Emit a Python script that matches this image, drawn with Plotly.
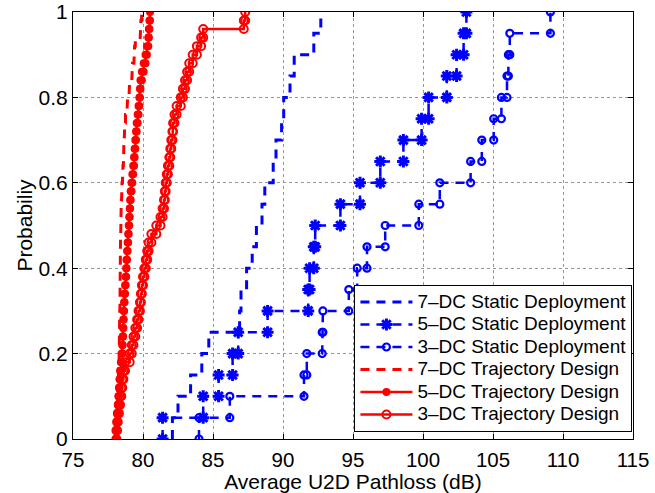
import plotly.graph_objects as go

# Sorted samples (dB) for each empirical CDF
static_7dc = [82.1, 82.5, 83.4, 84.2, 84.7, 86.9, 87.0, 87.4, 87.8, 88.1,
              88.5, 88.7, 89.3, 89.5, 89.9, 90.05, 90.5, 90.8, 92.2, 92.7]
static_5dc = [81.4, 84.3, 85.4, 86.4, 86.8, 88.9, 91.8, 91.9, 92.2, 92.3,
              94.1, 95.5, 96.95, 98.6, 99.9, 100.4, 101.7, 102.4, 102.9, 103.1]
static_3dc = [84.0, 86.2, 91.5, 91.7, 92.8, 92.85, 94.7, 95.3, 96.0, 97.3,
              99.7, 101.2, 103.4, 104.2, 105.05, 105.6, 106.0, 106.1, 106.2, 109.1]
traj_7dc = [78.02, 78.05, 78.08, 78.12, 78.16, 78.19, 78.22, 78.25, 78.27, 78.29,
            78.30, 78.31, 78.32, 78.33, 78.34, 78.35, 78.36, 78.37, 78.38, 78.38,
            78.39, 78.39, 78.40, 78.40, 78.41, 78.42, 78.43, 78.45, 78.47, 78.50,
            78.53, 78.57, 78.60, 78.62, 78.64, 78.66, 78.70, 78.75, 78.85, 78.90,
            79.00, 79.05, 79.20, 79.25, 79.35, 79.40, 79.45, 79.80, 79.85, 79.90]
traj_5dc = [78.12, 78.14, 78.18, 78.20, 78.24, 78.28, 78.32, 78.36, 78.42, 78.48,
            78.52, 78.55, 78.58, 78.60, 78.62, 78.65, 78.68, 78.72, 78.76, 78.80,
            78.82, 78.86, 78.90, 78.94, 78.98, 79.02, 79.05, 79.08, 79.12, 79.18,
            79.24, 79.30, 79.36, 79.40, 79.45, 79.50, 79.55, 79.62, 79.68, 79.74,
            79.78, 79.82, 79.92, 80.05, 80.18, 80.28, 80.38, 80.42, 80.46, 80.50]
traj_3dc = [78.10, 78.15, 78.20, 78.28, 78.36, 78.45, 78.52, 78.60, 78.72, 79.05,
            79.20, 79.32, 79.45, 79.58, 79.68, 79.78, 79.85, 79.92, 80.00, 80.10,
            80.20, 80.30, 80.40, 80.60, 80.95, 81.25, 81.40, 81.50, 81.56, 81.62,
            81.70, 81.78, 81.88, 81.95, 82.02, 82.10, 82.15, 82.25, 82.40, 82.70,
            82.85, 83.00, 83.15, 83.30, 83.55, 83.85, 84.15, 84.30, 87.20, 87.30]

labels = ["7\u2013DC Static Deployment", "5\u2013DC Static Deployment", "3\u2013DC Static Deployment",
          "7\u2013DC Trajectory Design", "5\u2013DC Trajectory Design", "3\u2013DC Trajectory Design"]
x_ticks = [75, 80, 85, 90, 95, 100, 105, 110, 115]
y_ticks = [0, 0.2, 0.4, 0.6, 0.8, 1]

BLUE = "rgb(0,0,255)"
RED = "rgb(255,0,0)"
FONT = "Liberation Sans, Arial, Helvetica, sans-serif"


def ecdf_stairs(samples):
    s = sorted(samples)
    n = len(s)
    xs, ys = [], []
    for i, v in enumerate(s):
        xs += [v, v]
        ys += [i / n, (i + 1) / n]
    return xs, ys


styles = [
    (static_7dc, dict(color=BLUE, width=3, dash="9px,7px"), None),
    (static_5dc, dict(color=BLUE, width=2.5, dash="9px,7px"),
     dict(symbol="asterisk-open", size=10, color=BLUE, line=dict(color=BLUE, width=3))),
    (static_3dc, dict(color=BLUE, width=2.5, dash="9px,7px"),
     dict(symbol="circle-open", size=7, color=BLUE, line=dict(color=BLUE, width=2.2))),
    (traj_7dc, dict(color=RED, width=3, dash="9px,7px"), None),
    (traj_5dc, dict(color=RED, width=2.5),
     dict(symbol="circle", size=8, color=RED, line=dict(width=0))),
    (traj_3dc, dict(color=RED, width=2.5),
     dict(symbol="circle-open", size=8, color=RED, line=dict(color=RED, width=2))),
]

fig = go.Figure()
for (data, line, marker), name in zip(styles, labels):
    xs, ys = ecdf_stairs(data)
    shown = '<span style="font-size:19px">' + name + '</span>'
    if marker is None:
        fig.add_trace(go.Scatter(x=xs, y=ys, mode="lines", name=shown, line=line))
    else:
        fig.add_trace(go.Scatter(x=xs, y=ys, mode="lines+markers", name=shown,
                                 line=line, marker=marker))

axis_common = dict(
    showline=True, linecolor="black", linewidth=1, mirror="ticks",
    ticks="inside", ticklen=5, tickcolor="black",
    showgrid=True, gridcolor="rgb(150,150,150)", gridwidth=1, griddash="dot",
    zeroline=False, automargin=False,
)

fig.update_xaxes(range=[75, 115], tickvals=x_ticks, ticklabelstandoff=2,
                 tickfont=dict(size=20.5, color="black", family=FONT),
                 title=dict(text="Average U2D Pathloss (dB)", font=dict(size=21, color="black", family=FONT), standoff=0),
                 **axis_common)
fig.update_yaxes(range=[0, 1], tickvals=y_ticks,
                 tickfont=dict(size=21, color="black", family=FONT),
                 title=dict(text="Probabiliy", font=dict(size=21, color="black", family=FONT), standoff=0),
                 **axis_common)

fig.update_layout(
    width=655, height=493,
    margin=dict(l=73, r=22, t=12, b=54, autoexpand=False),
    paper_bgcolor="white", plot_bgcolor="white",
    font=dict(family=FONT, color="black"),
    showlegend=True,
    legend=dict(x=0.999, y=0.017, xanchor="right", yanchor="bottom",
                bgcolor="white", bordercolor="black", borderwidth=1,
                font=dict(size=15, color="black", family=FONT),
                tracegroupgap=0, itemwidth=52),
)

fig.write_html("out.html", config={"displayModeBar": False},
               post_script="document.body.style.margin='0';document.body.style.overflow='hidden';")
